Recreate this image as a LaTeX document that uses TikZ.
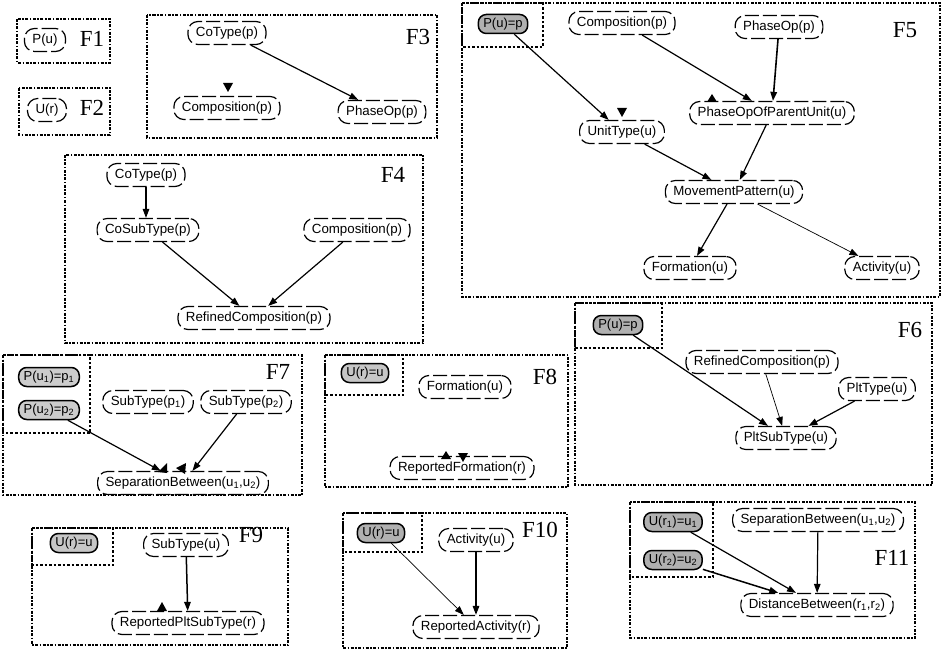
\documentclass[tikz,border=0pt]{standalone}
\usepackage{fontspec}
\setmainfont{Liberation Sans}
\newfontfamily\tnr{Liberation Serif}
\usetikzlibrary{arrows.meta,calc}
\newcommand{\sbs}[1]{\textsubscript{#1}}
\begin{document}
\begin{tikzpicture}[x=1pt,y=-1pt,
 var/.style={draw, rounded corners=10pt, line width=1.2pt, dash pattern=on 14pt off 4pt, inner xsep=8pt, inner ysep=3.5pt, minimum height=23pt, font=\fontsize{13.3}{15}\selectfont},
 ctx/.style={draw, fill=gray!62, rounded corners=8pt, line width=1.5pt, inner xsep=5pt, inner ysep=2pt, minimum height=19pt, font=\fontsize{13}{15}\selectfont},
 fragbox/.style={draw, line width=2.6pt, dash pattern=on 3pt off 1.5pt on 1.5pt off 1.5pt},
 cbox/.style={draw, line width=1.8pt, dash pattern=on 2.5pt off 2pt},
 flab/.style={font=\tnr\fontsize{23}{25}\selectfont, inner sep=0pt},
 link/.style={-{Triangle[length=9pt,width=6.5pt]}, line width=1.2pt},
 thinlink/.style={link, line width=0.7pt},
 stray/.style={fill=black}
]
\useasboundingbox (0,0) rectangle (943,650);
\fill[white] (0,0) rectangle (943,650);

% ---------- F1
\draw[fragbox] (17,19) rectangle (110,63);
\node[var] (f1pu) at (45,40) {P(u)};
\node[flab] (f1l) at (92,39) {F1};
% ---------- F2
\draw[fragbox] (19,88) rectangle (110,135);
\node[var] (f2ur) at (47,110) {U(r)};
\node[flab] (f2l) at (92,108) {F2};
% ---------- F3
\draw[fragbox] (147,15) rectangle (437,138);
\node[var] (f3co) at (227,33) {CoType(p)};
\node[var] (f3comp) at (227,108) {Composition(p)};
\node[var] (f3ph) at (382,112) {PhaseOp(p)};
\node[flab] (f3l) at (418,37) {F3};
\draw[link] (f3co) -- (f3ph);
\fill[stray] (223,83) -- (233,83) -- (228,92) -- cycle;
% ---------- F4
\draw[fragbox] (65,155) rectangle (423,343);
\node[var] (f4co) at (146,175) {CoType(p)};
\node[var] (f4cs) at (148,230) {CoSubType(p)};
\node[var] (f4comp) at (357,230) {Composition(p)};
\node[var] (f4rc) at (254,318) {RefinedComposition(p)};
\node[flab] (f4l) at (393,175) {F4};
\draw[link] (f4co.south) -- (f4co.south |- f4cs.north);
\draw[link] (f4cs) -- (f4rc);
\draw[link] (f4comp) -- (f4rc);
% ---------- F5
\draw[fragbox] (462,3) rectangle (940,297);
\draw[cbox] (462,3) rectangle (543,47);
\node[ctx] (f5p) at (503,24) {P(u)=p};
\node[var] (f5comp) at (622,23) {Composition(p)};
\node[var] (f5ph) at (779,27) {PhaseOp(p)};
\node[var] (f5popu) at (772,113) {PhaseOpOfParentUnit(u)};
\node[var] (f5ut) at (622,132) {UnitType(u)};
\node[var] (f5mp) at (734,192) {MovementPattern(u)};
\node[var] (f5fo) at (690,268) {Formation(u)};
\node[var] (f5ac) at (882,268) {Activity(u)};
\node[flab] (f5l) at (905,30) {F5};
\draw[link] (f5p) -- (f5ut);
\draw[link] (f5comp) -- (f5popu);
\draw[link, line width=1.6pt] (f5ph) -- (f5popu);
\draw[link] (f5ut) -- (f5mp);
\draw[link] (f5popu) -- (f5mp);
\draw[link] (f5mp) -- (f5fo);
\draw[thinlink] (f5mp) -- (f5ac);
\fill[stray] (617,108) -- (627,108) -- (622,117) -- cycle;
\fill[stray] (707,102) -- (717,102) -- (712,94) -- cycle;
% ---------- F6
\draw[fragbox] (575,303) rectangle (932,485);
\draw[cbox] (575,303) rectangle (662,348);
\node[ctx] (f6p) at (618,325) {P(u)=p};
\node[var] (f6rc) at (762,362) {RefinedComposition(p)};
\node[var] (f6pt) at (877,389) {PltType(u)};
\node[var] (f6ps) at (786,438) {PltSubType(u)};
\node[flab] (f6l) at (910,330) {F6};
\draw[link] (f6p) -- (f6ps);
\draw[thinlink] (f6rc) -- (f6ps);
\draw[link] (f6pt) -- (f6ps);
% ---------- F7
\draw[fragbox] (3,355) rectangle (302,495);
\draw[cbox] (3,355) rectangle (90,433);
\node[ctx, fill=gray!40] (f7p1) at (49,377) {P(u\sbs{1})=p\sbs{1}};
\node[ctx, fill=gray!40] (f7p2) at (49,410) {P(u\sbs{2})=p\sbs{2}};
\node[var] (f7s1) at (148,402) {SubType(p\sbs{1})};
\node[var] (f7s2) at (246,402) {SubType(p\sbs{2})};
\node[var] (f7sep) at (183,483) {SeparationBetween(u\sbs{1},u\sbs{2})};
\node[flab] (f7l) at (278,372) {F7};
\draw[link] (f7p2) -- (f7sep);
\draw[link] (f7s2) -- (f7sep);
\fill[stray] (158,472) -- (167,463) -- (167,473) -- cycle;
\fill[stray] (176,468) -- (186,463) -- (185,474) -- cycle;
% ---------- F8
\draw[fragbox] (325,355) rectangle (568,487);
\draw[cbox] (325,355) rectangle (403,395);
\node[ctx, fill=gray!45] (f8u) at (365,373) {U(r)=u};
\node[var] (f8fo) at (465,387) {Formation(u)};
\node[var] (f8rf) at (462,468) {ReportedFormation(r)};
\node[flab] (f8l) at (545,377) {F8};
\fill[stray] (441,459) -- (451,459) -- (446,451) -- cycle;
\fill[stray] (458,453) -- (468,453) -- (463,462) -- cycle;
% ---------- F9
\draw[fragbox] (32,528) rectangle (288,645);
\draw[cbox] (32,528) rectangle (113,565);
\node[ctx, fill=gray!45] (f9u) at (74,543) {U(r)=u};
\node[var] (f9st) at (186,545) {SubType(u)};
\node[var] (f9rp) at (188,623) {ReportedPltSubType(r)};
\node[flab] (f9l) at (251,535) {F9};
\draw[link, line width=1.5pt] (f9st) -- (f9rp);
\fill[stray] (157,611) -- (167,611) -- (162,602) -- cycle;
% ---------- F10
\draw[fragbox] (343,513) rectangle (567,648);
\draw[cbox] (343,513) rectangle (422,552);
\node[ctx] (f10u) at (381,533) {U(r)=u};
\node[var] (f10ac) at (476,540) {Activity(u)};
\node[var] (f10ra) at (476,627) {ReportedActivity(r)};
\node[flab] (f10l) at (540,530) {F10};
\draw[thinlink] (f10u) -- (f10ra);
\draw[link, line width=1.5pt] (f10ac) -- (f10ra);
% ---------- F11
\draw[fragbox] (630,502) rectangle (915,638);
\draw[cbox] (630,502) rectangle (713,577);
\node[ctx] (f11u1) at (673,522) {U(r\sbs{1})=u\sbs{1}};
\node[ctx] (f11u2) at (673,560) {U(r\sbs{2})=u\sbs{2}};
\node[var] (f11sep) at (818,520) {SeparationBetween(u\sbs{1},u\sbs{2})};
\node[var] (f11db) at (817,605) {DistanceBetween(r\sbs{1},r\sbs{2})};
\node[flab] (f11l) at (892,558) {F11};
\draw[link] (f11u1) -- (f11db);
\draw[link, line width=1.5pt] (f11u2) -- (f11db);
\draw[link] (f11sep) -- (f11db);
\end{tikzpicture}
\end{document}
